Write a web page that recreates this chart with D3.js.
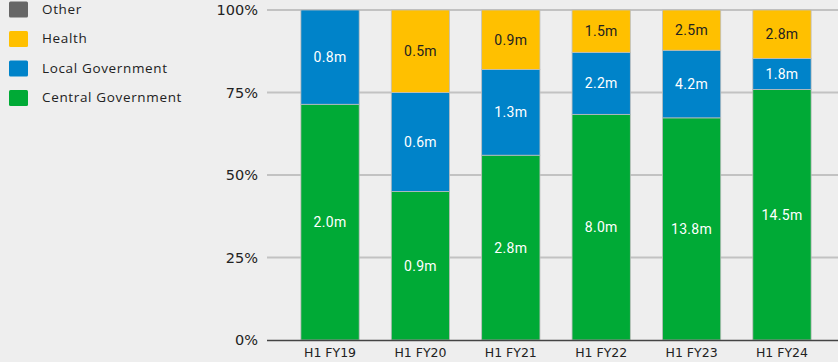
<!DOCTYPE html>
<html>
<head>
<meta charset="utf-8">
<script src="https://cdn.jsdelivr.net/npm/d3@7"></script>
<style>
  html, body { margin: 0; padding: 0; background: #eeeeee; }
  svg { display: block; }
</style>
</head>
<body>
<svg id="chart" width="838" height="362"></svg>
<script>
// Half-year periods
const periods = ["H1 FY19", "H1 FY20", "H1 FY21", "H1 FY22", "H1 FY23", "H1 FY24"];

// Values in millions, per sector
const central = [2.0, 0.9, 2.8, 8.0, 13.8, 14.5];
const local   = [0.8, 0.6, 1.3, 2.2, 4.2, 1.8];
const health  = [0.0, 0.5, 0.9, 1.5, 2.5, 2.8];
const other   = [0, 0, 0, 0, 0, 0];

// Series, bottom to top
const seriesNames = ["Central Government", "Local Government", "Health", "Other"];
const seriesColors = ["#00aa36", "#0083c9", "#ffc000", "#666666"];
const labelColors = ["#ffffff", "#ffffff", "#222222", "#ffffff"];

const yTicks = [0, 0.25, 0.5, 0.75, 1];

const rows = periods.map((p, i) => ({
  period: p,
  "Central Government": central[i],
  "Local Government": local[i],
  "Health": health[i],
  "Other": other[i]
}));

const svg = d3.select("#chart");

const plot = { left: 267, right: 838, top: 10, bottom: 340 };

const x = d3.scaleBand()
  .domain(periods)
  .range([284.8, 827.2])
  .paddingInner(0.355)
  .paddingOuter(0.178);

const y = d3.scaleLinear().domain([0, 1]).range([plot.bottom, plot.top]);

// Horizontal gridlines
svg.append("g")
  .selectAll("line")
  .data(yTicks.filter(t => t > 0))
  .join("line")
  .attr("x1", plot.left)
  .attr("x2", plot.right)
  .attr("y1", d => y(d))
  .attr("y2", d => y(d))
  .attr("stroke", "#c2c2c2")
  .attr("stroke-width", 2);

// Y tick labels
svg.append("g")
  .selectAll("text")
  .data(yTicks)
  .join("text")
  .attr("x", 258)
  .attr("y", d => y(d))
  .attr("dy", "0.35em")
  .attr("text-anchor", "end")
  .attr("font-family", "DejaVu Sans, Verdana, sans-serif")
  .attr("font-size", 14.5)
  .attr("fill", "#222")
  .text(d => d3.format(".0%")(d));

// Normalised stack
const stack = d3.stack()
  .keys(seriesNames)
  .offset(d3.stackOffsetExpand);
const layers = stack(rows);

const layerG = svg.append("g")
  .selectAll("g")
  .data(layers)
  .join("g")
  .attr("fill", (d, i) => seriesColors[i]);

layerG.selectAll("rect")
  .data(d => d.map(v => ({ v, key: d.key })))
  .join("rect")
  .attr("x", d => x(d.v.data.period))
  .attr("width", x.bandwidth())
  .attr("y", d => y(d.v[1]))
  .attr("height", d => Math.max(0, y(d.v[0]) - y(d.v[1])))
  .attr("stroke", "#bdbdbd")
  .attr("stroke-width", 0.8);

// Value labels inside segments
layers.forEach((layer, li) => {
  svg.append("g")
    .selectAll("text")
    .data(layer.filter(v => v.data[layer.key] > 0))
    .join("text")
    .attr("x", v => x(v.data.period) + x.bandwidth() / 2)
    .attr("y", v => y((v[0] + v[1]) / 2))
    .attr("dy", "0.35em")
    .attr("text-anchor", "middle")
    .attr("font-family", "Roboto, sans-serif")
    .attr("font-size", 14)
    .attr("letter-spacing", 0.3)
    .attr("fill", labelColors[li])
    .text(v => d3.format(".1f")(v.data[layer.key]) + "m");
});

// Baseline
svg.append("line")
  .attr("x1", plot.left)
  .attr("x2", plot.right)
  .attr("y1", plot.bottom + 0.5)
  .attr("y2", plot.bottom + 0.5)
  .attr("stroke", "#444")
  .attr("stroke-width", 1.5);

// X labels
svg.append("g")
  .selectAll("text")
  .data(periods)
  .join("text")
  .attr("x", d => x(d) + x.bandwidth() / 2)
  .attr("y", 353)
  .attr("dy", "0.35em")
  .attr("text-anchor", "middle")
  .attr("font-family", "DejaVu Sans, Verdana, sans-serif")
  .attr("font-size", 12.5)
  .attr("fill", "#222")
  .text(d => d);

// Legend, top entry first
const legendOrder = [3, 2, 1, 0];
const legend = svg.append("g")
  .selectAll("g")
  .data(legendOrder)
  .join("g")
  .attr("transform", (d, i) => `translate(9, ${9 + i * 29.5})`);

legend.append("rect")
  .attr("x", 0)
  .attr("y", -7.5)
  .attr("width", 19)
  .attr("height", 16)
  .attr("rx", 1.5)
  .attr("fill", d => seriesColors[d]);

legend.append("text")
  .attr("x", 33)
  .attr("y", 0)
  .attr("dy", "0.35em")
  .attr("font-family", "Open Sans, sans-serif")
  .attr("font-size", 13.5)
  .attr("letter-spacing", 0.65)
  .attr("fill", "#222")
  .text(d => seriesNames[d]);
</script>
</body>
</html>
